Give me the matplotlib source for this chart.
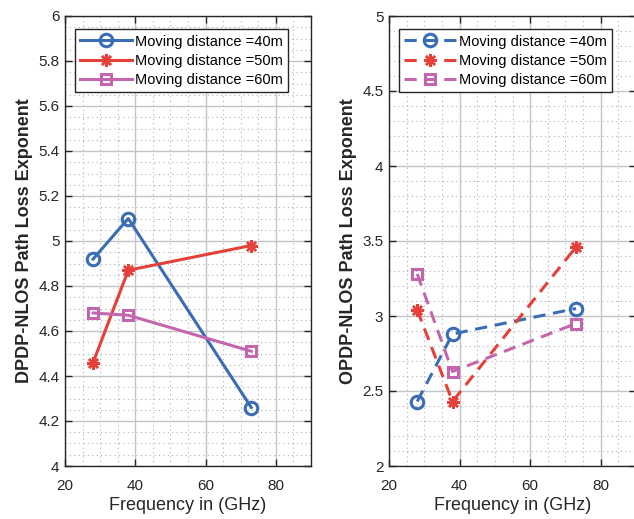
import numpy as np
import matplotlib.pyplot as plt
from matplotlib.ticker import MultipleLocator

plt.rcParams['font.family'] = ['Liberation Sans', 'DejaVu Sans']

# frequencies (GHz)
freq = [28, 38, 73]

# DPDP-NLOS path loss exponent
dpdp_40 = [4.92, 5.10, 4.26]
dpdp_50 = [4.46, 4.87, 4.98]
dpdp_60 = [4.68, 4.67, 4.51]

# OPDP-NLOS path loss exponent
opdp_40 = [2.43, 2.88, 3.05]
opdp_50 = [3.04, 2.43, 3.46]
opdp_60 = [3.28, 2.63, 2.95]

labels = ["Moving distance =40m", "Moving distance =50m", "Moving distance =60m"]
colors = ["#3a6db4", "#e5403a", "#c366ae"]
markers = ["o", (8, 2, 0), "s"]

fig = plt.figure(figsize=(6.34, 5.19), dpi=100)
ax1 = fig.add_axes([65/634, 53/519, 246/634, 450/519])
ax2 = fig.add_axes([389/634, 53/519, 247/634, 450/519])


def style_axis(ax, ylo, yhi, ymaj, ymin):
    ax.set_xlim(20, 90)
    ax.set_ylim(ylo, yhi)
    ax.xaxis.set_major_locator(MultipleLocator(20))
    ax.xaxis.set_minor_locator(MultipleLocator(5))
    ax.yaxis.set_major_locator(MultipleLocator(ymaj))
    ax.yaxis.set_minor_locator(MultipleLocator(ymin))
    ax.grid(which='major', color='#c4c4c8', linewidth=1.0)
    ax.grid(which='minor', color='#b0b0b4', linestyle=(0, (1, 3)), linewidth=0.8)
    ax.set_axisbelow(True)
    ax.tick_params(which='both', direction='in', top=True, right=True,
                   labelsize=11, colors='#262626')
    ax.tick_params(which='minor', length=0)
    ax.tick_params(which='major', length=5, width=1)
    ax.tick_params(axis='x', pad=9)
    ax.tick_params(axis='y', pad=4)
    for s in ax.spines.values():
        s.set_color('#262626')
        s.set_linewidth(1.0)
    ax.set_xlabel("Frequency in (GHz)", fontsize=13, color='#262626', labelpad=3)


def draw_series(ax, series, ls):
    for ys, lab, c, m in zip(series, labels, colors, markers):
        star = m == (8, 2, 0)
        ax.plot(freq, ys, color=c, linestyle=ls, linewidth=2.2, marker=m,
                markersize=9 if m == "o" else (9 if star else 7),
                markerfacecolor=c if star else 'none',
                markeredgecolor=c, markeredgewidth=1.8 if star else 2.2, label=lab)
    ax.legend(loc='upper left', bbox_to_anchor=(0.04, 0.97), fontsize=10.5, frameon=True,
              fancybox=False, edgecolor='#262626', framealpha=1, handlelength=3.6,
              handletextpad=0.15, borderpad=0.35, labelspacing=0.35, borderaxespad=0)


# left panel: solid lines
draw_series(ax1, [dpdp_40, dpdp_50, dpdp_60], '-')
style_axis(ax1, 4, 6, 0.2, 0.05)
ax1.set_yticks(np.arange(4, 6.01, 0.2))
ax1.set_yticklabels(["4", "4.2", "4.4", "4.6", "4.8", "5", "5.2", "5.4", "5.6", "5.8", "6"])
ax1.set_ylabel("DPDP-NLOS Path Loss Exponent", fontsize=13, fontweight='bold', color='#262626')

# right panel: dashed lines
draw_series(ax2, [opdp_40, opdp_50, opdp_60], (0, (4, 2.5)))
style_axis(ax2, 2, 5, 0.5, 0.1)
ax2.set_yticks(np.arange(2, 5.01, 0.5))
ax2.set_yticklabels(["2", "2.5", "3", "3.5", "4", "4.5", "5"])
ax2.set_ylabel("OPDP-NLOS Path Loss Exponent", fontsize=13, fontweight='bold', color='#262626')

fig.savefig("out.png", dpi=100)
